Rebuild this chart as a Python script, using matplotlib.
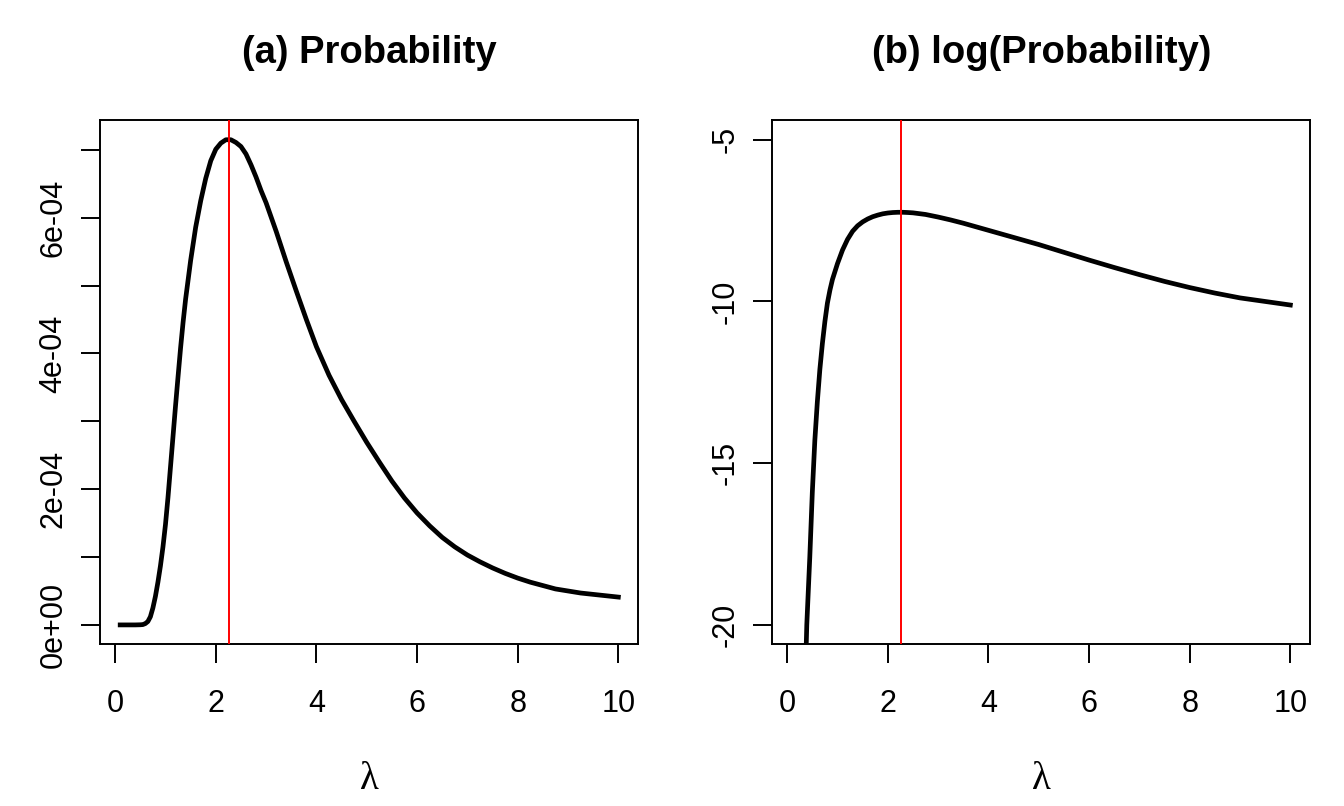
import matplotlib.pyplot as plt
import numpy as np

# values
# (a) probability against lambda
lam_a = [0.10, 0.40, 0.50, 0.55, 0.60, 0.65, 0.70, 0.75, 0.80, 0.85, 0.90,
         0.95, 1.00, 1.05, 1.10, 1.15, 1.20, 1.25, 1.30, 1.35, 1.40, 1.50,
         1.60, 1.70, 1.80, 1.90, 2.00, 2.10, 2.20, 2.30, 2.40, 2.50, 2.60,
         2.70, 2.80, 2.90, 3.00, 3.20, 3.40, 3.60, 3.80, 4.00, 4.25, 4.50,
         4.75, 5.00, 5.25, 5.50, 5.75, 6.00, 6.25, 6.50, 6.75, 7.00, 7.25,
         7.50, 7.75, 8.00, 8.25, 8.50, 8.75, 9.00, 9.25, 9.50, 9.75, 10.0]
prob_a = [0.0, 0.0, 0.002e-4, 0.005e-4, 0.02e-4, 0.05e-4, 0.12e-4, 0.25e-4,
          0.42e-4, 0.63e-4, 0.87e-4, 1.15e-4, 1.48e-4, 1.88e-4, 2.33e-4,
          2.78e-4, 3.23e-4, 3.66e-4, 4.08e-4, 4.46e-4, 4.80e-4, 5.37e-4,
          5.86e-4, 6.25e-4, 6.58e-4, 6.84e-4, 7.01e-4, 7.10e-4, 7.15e-4,
          7.15e-4, 7.11e-4, 7.05e-4, 6.94e-4, 6.78e-4, 6.60e-4, 6.40e-4,
          6.22e-4, 5.80e-4, 5.35e-4, 4.92e-4, 4.50e-4, 4.10e-4, 3.68e-4,
          3.32e-4, 3.00e-4, 2.69e-4, 2.40e-4, 2.12e-4, 1.87e-4, 1.65e-4,
          1.46e-4, 1.29e-4, 1.15e-4, 1.03e-4, 0.93e-4, 0.84e-4, 0.76e-4,
          0.69e-4, 0.63e-4, 0.58e-4, 0.53e-4, 0.50e-4, 0.47e-4, 0.45e-4,
          0.43e-4, 0.41e-4]

# (b) log(probability) against lambda
lam_b = [0.10, 0.20, 0.30, 0.39, 0.45, 0.50, 0.55, 0.60, 0.65, 0.70, 0.75,
         0.80, 0.85, 0.90, 1.00, 1.10, 1.20, 1.30, 1.40, 1.50, 1.60, 1.70,
         1.80, 1.90, 2.00, 2.10, 2.20, 2.30, 2.40, 2.50, 2.75, 3.00, 3.25,
         3.50, 3.75, 4.00, 4.50, 5.00, 5.50, 6.00, 6.50, 7.00, 7.50, 8.00,
         8.50, 9.00, 9.50, 10.0]
logprob_b = [-80.8, -38.6, -25.2, -20.0, -17.9, -15.9, -14.3, -13.1, -12.1,
             -11.3, -10.62, -10.05, -9.65, -9.32, -8.83, -8.41, -8.08, -7.83,
             -7.66, -7.54, -7.45, -7.38, -7.33, -7.29, -7.265, -7.25, -7.243,
             -7.243, -7.25, -7.26, -7.31, -7.39, -7.48, -7.58, -7.69, -7.80,
             -8.02, -8.24, -8.48, -8.72, -8.95, -9.17, -9.38, -9.57, -9.74,
             -9.89, -10.00, -10.11]

# maximum likelihood estimate (red line)
lam_hat = 2.26

x_ticks = [0, 2, 4, 6, 8, 10]
a_yticks = [0, 1e-4, 2e-4, 3e-4, 4e-4, 5e-4, 6e-4, 7e-4]
a_ylabels = ["0e+00", "", "2e-04", "", "4e-04", "", "6e-04", ""]
b_yticks = [-20, -15, -10, -5]
b_ylimits = [-20, -5]

plt.rcParams['font.family'] = ['Liberation Sans', 'DejaVu Sans']


def r_range(lo, hi):
    # R style 4% padding
    d = (hi - lo) * 0.04
    return lo - d, hi + d


def style(ax, title):
    for s in ax.spines.values():
        s.set_linewidth(1.4)
    ax.tick_params(direction='out', length=14, width=1.4, labelsize=22)
    ax.tick_params(axis='x', pad=18)
    ax.tick_params(axis='y', pad=9)
    for lab in ax.get_yticklabels():
        lab.set_rotation(90)
        lab.set_va('center')
    ax.set_title(title, fontsize=27.5, fontweight='bold', pad=41)
    ax.set_xlabel('λ', fontsize=28, family=['Liberation Serif', 'DejaVu Serif'])
    ax.xaxis.set_label_coords(0.5, -0.222)


fig = plt.figure(figsize=(13.44, 8.06), dpi=100)
ax1 = fig.add_axes([0.0746, 0.2006, 0.4003, 0.6501])
ax2 = fig.add_axes([0.5746, 0.2006, 0.4003, 0.6501])

# panel (a)
ax1.plot(lam_a, prob_a, color='black', lw=3.4, solid_joinstyle='round')
ax1.axvline(lam_hat, color='red', lw=1.4, zorder=3)
ax1.set_xlim(*r_range(min(lam_a), max(lam_a)))
ax1.set_ylim(*r_range(min(prob_a), max(prob_a)))
ax1.set_xticks(x_ticks)
ax1.set_yticks(a_yticks)
ax1.set_yticklabels(a_ylabels)
style(ax1, '(a) Probability')

# panel (b)
ax2.plot(lam_b, logprob_b, color='black', lw=3.4, solid_joinstyle='round')
ax2.axvline(lam_hat, color='red', lw=1.4, zorder=3)
ax2.set_xlim(*r_range(min(lam_b), max(lam_b)))
ax2.set_ylim(*r_range(*b_ylimits))
ax2.set_xticks(x_ticks)
ax2.set_yticks(b_yticks)
ax2.set_yticklabels([str(v) for v in b_yticks])
style(ax2, '(b) log(Probability)')

fig.savefig('out.png', dpi=100)
